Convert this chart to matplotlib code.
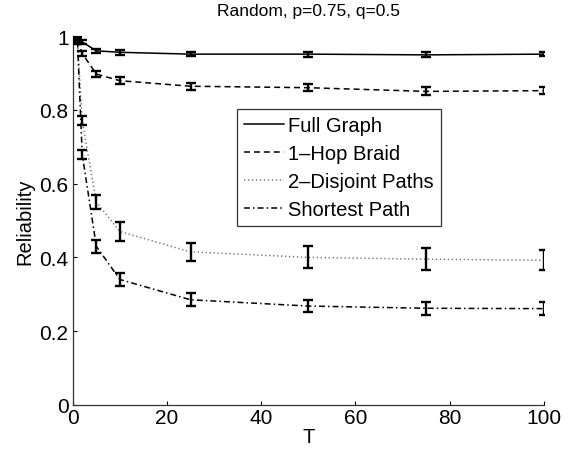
import matplotlib
matplotlib.use('Agg')
import matplotlib.pyplot as plt

# ---- data ----
T = [1, 2, 5, 10, 25, 50, 75, 100]

full_graph     = [0.995, 0.984, 0.960, 0.956, 0.951, 0.951, 0.949, 0.951]
full_graph_err = [0.005, 0.005, 0.006, 0.006, 0.006, 0.007, 0.007, 0.006]

hop_braid      = [0.990, 0.953, 0.897, 0.879, 0.864, 0.860, 0.850, 0.852]
hop_braid_err  = [0.006, 0.007, 0.009, 0.009, 0.010, 0.010, 0.011, 0.010]

disjoint       = [0.990, 0.770, 0.550, 0.470, 0.415, 0.400, 0.395, 0.392]
disjoint_err   = [0.006, 0.012, 0.020, 0.025, 0.025, 0.030, 0.030, 0.027]

shortest       = [0.985, 0.680, 0.430, 0.340, 0.285, 0.268, 0.262, 0.261]
shortest_err   = [0.006, 0.012, 0.018, 0.018, 0.018, 0.017, 0.018, 0.018]

labels = ['Full Graph', '1\u2013Hop Braid', '2\u2013Disjoint Paths', 'Shortest Path']

plt.rcParams['font.family'] = ['Liberation Sans', 'DejaVu Sans']

fig = plt.figure(figsize=(5.73, 4.52), dpi=100)
ax = fig.add_axes([0.127, 0.102, 0.822, 0.816])

lw = 1.1
series = [
    (full_graph, full_graph_err, dict(color='black', linestyle='-')),
    (hop_braid, hop_braid_err, dict(color='black', linestyle=(0, (3.9, 2.6)))),
    (disjoint, disjoint_err, dict(color='#7a7a7a', linestyle=(0, (0.9, 1.7)))),
    (shortest, shortest_err, dict(color='black', linestyle=(0, (3.9, 2.0, 1.0, 2.0)))),
]

handles = []
for (vals, err, style), lab in zip(series, labels):
    ax.errorbar(T, vals, yerr=err, fmt='none', ecolor='black',
                elinewidth=1.7, capsize=3.6, capthick=1.7, zorder=3)
    h, = ax.plot(T, vals, linewidth=lw, label=lab, zorder=2, **style)
    handles.append(h)

ax.set_xlim(0, 100)
ax.set_ylim(0, 1)
ax.set_xticks([0, 20, 40, 60, 80, 100])
ax.set_yticks([0, 0.2, 0.4, 0.6, 0.8, 1])
ax.set_yticklabels(['0', '0.2', '0.4', '0.6', '0.8', '1'])
ax.tick_params(direction='in', length=3, width=0.8, labelsize=15)
ax.tick_params(axis='x', pad=2.5)
ax.tick_params(axis='y', pad=3)
ax.spines['top'].set_visible(False)
ax.spines['right'].set_visible(False)
for s in ('left', 'bottom'):
    ax.spines[s].set_linewidth(0.9)
    ax.spines[s].set_color('#333333')

ax.set_xlabel('T', fontsize=14.5, labelpad=0)
ax.set_ylabel('Reliability', fontsize=14.5, labelpad=4)
ax.set_title('Random, p=0.75, q=0.5', fontsize=12.5, pad=15)

leg = ax.legend(handles=handles, loc='upper left', bbox_to_anchor=(0.348, 0.802),
                borderaxespad=0, fontsize=14.5, frameon=True, fancybox=False,
                edgecolor='black', handlelength=2.0, handletextpad=0.2,
                labelspacing=0.45, borderpad=0.35)
leg.get_frame().set_linewidth(0.9)

fig.savefig('out.png', dpi=100)
